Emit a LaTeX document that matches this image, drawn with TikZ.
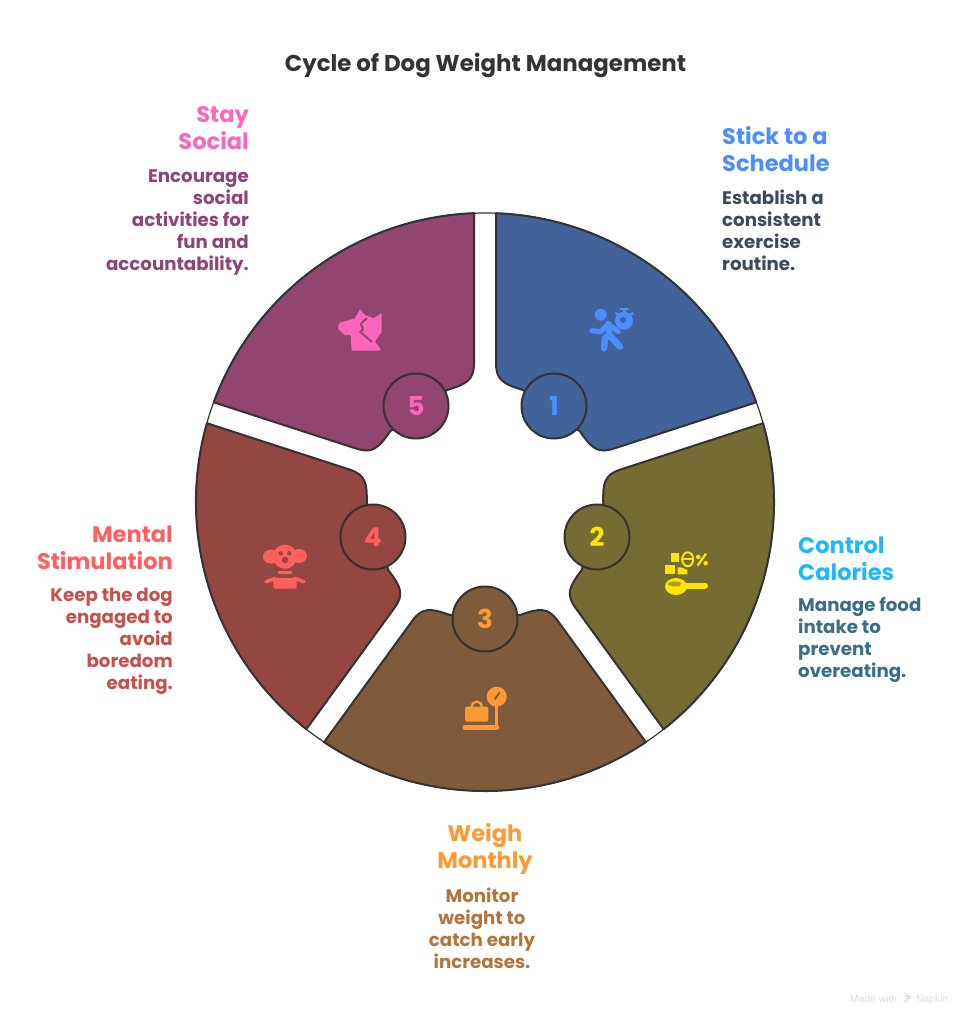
\documentclass[tikz,border=0pt]{standalone}
\usepackage{fontspec}
\setmainfont{Poppins}
\newfontfamily\footfont{Liberation Sans}
\definecolor{inkline}{RGB}{51,51,51}
\definecolor{segone}{RGB}{66,99,153}
\definecolor{segtwo}{RGB}{117,108,51}
\definecolor{segthree}{RGB}{127,91,60}
\definecolor{segfour}{RGB}{148,70,64}
\definecolor{segfive}{RGB}{145,69,111}
\definecolor{iconone}{RGB}{76,142,255}
\definecolor{icontwo}{RGB}{255,229,0}
\definecolor{iconthree}{RGB}{255,153,51}
\definecolor{iconfour}{RGB}{255,95,95}
\definecolor{iconfive}{RGB}{255,102,187}
\definecolor{titletwo}{RGB}{30,184,255}
\definecolor{bodyone}{RGB}{61,74,92}
\definecolor{bodytwo}{RGB}{59,110,133}
\definecolor{bodythree}{RGB}{181,117,58}
\definecolor{bodyfour}{RGB}{200,80,75}
\definecolor{bodyfive}{RGB}{142,69,118}
\definecolor{footgray}{RGB}{221,221,221}
\tikzset{
  petalline/.style={draw=inkline,line width=2pt,line join=round},
  numdot/.style={circle,draw=inkline,line width=2pt,minimum size=65pt,inner sep=0pt,font=\fontsize{26}{28}\selectfont\bfseries},
  headtext/.style={inner sep=0pt,font=\fontsize{22.5}{27}\selectfont\bfseries},
  bodytext/.style={inner sep=0pt,font=\fontsize{18.2}{22}\selectfont\bfseries},
  foottext/.style={inner sep=0pt,anchor=base west,text=footgray,font=\footfont\fontsize{10.3}{12}\selectfont},
  iconstroke/.style={line width=#1,line cap=round,line join=round}
}
\begin{document}
\begin{tikzpicture}[x=1pt,y=1pt]
\useasboundingbox (0,-1024) rectangle (970,0);
% five petals round the hub
\foreach \ang/\col in {0/segone,-72/segtwo,-144/segthree,-216/segfour,-288/segfive}
  \draw [petalline,fill=\col,shift={(485,-502)},rotate=\ang]
    (11,288.8) -- (11,139) .. controls (11,122) and (18,118) .. (38,112)
    -- (94.8,70.7) .. controls (106.7,53.6) and (112.6,48.2) .. (128.8,53.4)
    -- (271.3,99.7) arc[start angle=20.18,end angle=87.82,radius=289] -- cycle;
\draw [inkline,line width=1.2pt] (485,-502) circle (289);
\node [numdot,fill=segone,text=iconone] (num1) at (554,-406) {1};
\node [numdot,fill=segtwo,text=icontwo] (num2) at (597,-537) {2};
\node [numdot,fill=segthree,text=iconthree] (num3) at (485,-619) {3};
\node [numdot,fill=segfour,text=iconfour] (num4) at (373,-537) {4};
\node [numdot,fill=segfive,text=iconfive] (num5) at (416,-406) {5};
% title
\node [inner sep=0pt,font=\fontsize{22.9}{27}\selectfont\bfseries,text=inkline] (chart) at (485.5,-65) {Cycle of Dog Weight Management};
% stage texts
\node [headtext,text=iconone,anchor=west,align=left] (head1) at (722,-149.5) {Stick to a\\Schedule};
\node [bodytext,text=bodyone,anchor=west,align=left] (body1) at (722,-230) {Establish a\\consistent\\exercise\\routine.};
\node [headtext,text=titletwo,anchor=west,align=left] (head2) at (798,-558.5) {Control\\Calories};
\node [bodytext,text=bodytwo,anchor=west,align=left] (body2) at (798,-640) {Manage food\\intake to\\prevent\\overeating.};
\node [headtext,text=iconthree,align=center] (head3) at (485,-849) {Weigh\\Monthly};
\node [bodytext,text=bodythree,align=center] (body3) at (482,-928) {Monitor\\weight to\\catch early\\increases.};
\node [headtext,text=iconfour,anchor=east,align=right] (head4) at (173,-547.5) {Mental\\Stimulation};
\node [bodytext,text=bodyfour,anchor=east,align=right] (body4) at (173,-641) {Keep the dog\\engaged to\\avoid\\boredom\\eating.};
\node [headtext,text=iconfive,anchor=east,align=right] (head5) at (249,-128.5) {Stay\\Social};
\node [bodytext,text=bodyfive,anchor=east,align=right] (body5) at (249,-222.5) {Encourage\\social\\activities for\\fun and\\accountability.};
% runner and stopwatch
\fill [iconone] (600.7,-314.7) circle (6);
\draw [iconone,iconstroke=5pt] (591.7,-330.7) -- (600.7,-331.7) -- (608.3,-324) -- (618.3,-331.7);
\draw [iconone,iconstroke=6.5pt] (608.3,-324) -- (609.3,-335) -- (620,-346.7);
\draw [iconone,iconstroke=6.5pt] (609.3,-335) -- (605,-338.3) -- (604,-348.3);
\fill [iconone] (624,-320.7) circle (9);
\fill [segone] (623,-320) circle (3);
\draw [iconone,iconstroke=2pt] (620.5,-309.3) -- (628,-309.3);
\draw [iconone,iconstroke=2.5pt] (624.3,-309.3) -- (624.3,-313);
\draw [iconone,iconstroke=2.5pt] (616,-313.3) -- (618.5,-315);
\draw [iconone,iconstroke=2.5pt] (632.7,-313.3) -- (630,-315);
% spoon, blocks and percent
\fill [icontwo] (676,-586.5) ellipse (11 and 8.5);
\fill [segtwo!60!icontwo] (675,-584) ellipse (7 and 2.5);
\draw [icontwo,iconstroke=6pt] (683,-585.5) -- (705,-585.5);
\fill [icontwo] (671,-552.7) rectangle (679.3,-561.7);
\fill [icontwo] (665,-565) rectangle (675,-574.3);
\fill [icontwo] (677.7,-567.3) -- (681,-567.3) -- (687.3,-570) -- (687.3,-574.3) -- (677.7,-574.3) -- cycle;
\draw [icontwo,line width=2pt] (687.7,-559.3) ellipse (5.5 and 7);
\draw [icontwo,line width=2pt] (682,-559.3) -- (693.5,-559.3);
\draw [icontwo,iconstroke=2.2pt] (698,-565) -- (705.7,-554);
\fill [icontwo] (698.3,-557) circle (2.3);
\fill [icontwo] (705.7,-563.3) circle (2.3);
% scale with a bag
\draw [iconthree,iconstroke=5pt] (465,-727.3) -- (496.7,-727.3);
\draw [iconthree,iconstroke=3.5pt] (496.7,-703) -- (496.7,-727.3);
\fill [iconthree] (496.7,-696.7) circle (10);
\draw [segthree,iconstroke=1.8pt] (495,-699) -- (499.5,-692.5);
\fill [iconthree,rounded corners=2pt] (465,-706.7) rectangle (488.3,-721.7);
\draw [iconthree,line width=2.3pt] (471.3,-707) arc[start angle=180,end angle=0,radius=5.4];
% clown
\fill [iconfour] (271,-556.7) ellipse (8 and 7);
\fill [iconfour] (299,-556) ellipse (8 and 7);
\fill [iconfour] (285,-556.7) circle (12);
\fill [segfour] (280.7,-553.3) circle (2.2);
\fill [segfour] (289.3,-553.3) circle (2.2);
\fill [segfour] (285,-560) circle (3.2);
\fill [iconfour] (278.3,-570.7) rectangle (291.7,-574);
\fill [iconfour,rounded corners=2pt] (273.3,-578) rectangle (296.7,-588.5);
\draw [iconfour,iconstroke=3.5pt] (266,-581.7) -- (275,-578.5);
\draw [iconfour,iconstroke=3.5pt] (304,-581.7) -- (295,-578.5);
% dog and cat
\fill [iconfive] (338.3,-325) -- (340,-322.7) -- (355,-318.3) -- (360,-309.3) -- (365,-315) -- (373.3,-318.3)
  -- (381.7,-313.3) -- (381.7,-331.7) -- (375,-341.7) -- (380,-348.3) -- (380,-350.7) -- (351.7,-350.7)
  -- (350.7,-335) -- (345,-335) -- (338.3,-329.3) -- cycle;
\draw [segfive,iconstroke=2pt] (366.7,-318.3) -- (360.7,-324) -- (363.3,-329.3) -- (360,-331.7) -- (371.7,-341.7);
% footer
\node [foottext] (made) at (850,-1002) {Made with};
\node [foottext] (napkin) at (916,-1002) {Napkin};
\foreach \y in {993,996,999,1002}
  \draw [footgray,line width=1pt] (904,-\y) -- (911,-997.5);
\end{tikzpicture}
\end{document}
